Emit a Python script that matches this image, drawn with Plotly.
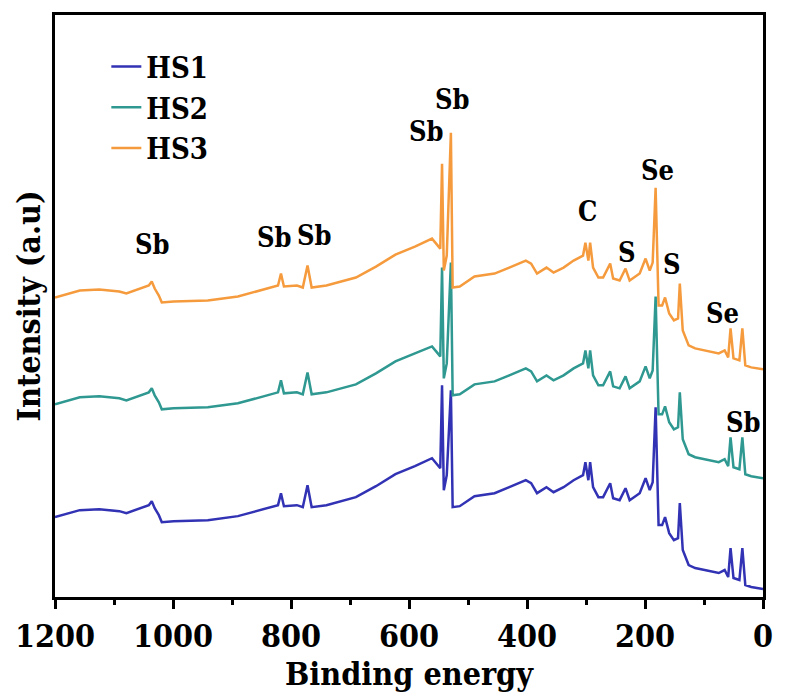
import plotly.graph_objects as go

# Binding energy (eV) sample points
energy = [1200,1158,1125,1091,1079,1058,1041,1036,1031,1024,
          1019,999,941,890,840,822,817,812,790,780,
          772,765,740,690,656,623,590,561,554,547,
          544,541,536,529,526,514,489,455,430,402,
          393,383,367,355,338,321,305,301,296,293,
          288,279,271,259,254,243,233,226,209,199,
          192,187,182,177,171,166,159,151,144,141,
          136,126,115,99,75,65,59,55,50,40,
          35,30,20,0]

# Intensities (a.u., stacked spectra)
hs1 = [80,87,88,86,84,88,92,96,89,82,
       75,76,77,81,89,92,104,91,92,90,
       112,90,92,100,111,123,131,139,134,129,
       212,107,122,207,90,91,101,104,110,117,
       114,104,110,105,110,117,122,135,117,135,
       110,100,100,114,99,97,109,97,104,119,
       107,115,190,72,72,80,64,57,59,94,
       47,32,29,27,24,27,20,49,19,17,
       49,12,10,8]

hs2 = [193,200,201,199,197,201,205,209,202,195,
       188,189,190,194,202,205,217,204,205,203,
       225,203,205,213,224,236,244,251,246,241,
       330,219,234,335,202,203,213,216,222,229,
       226,216,222,217,222,229,234,247,229,247,
       222,212,212,226,211,209,221,209,216,231,
       219,227,301,183,183,191,175,168,170,205,
       158,143,140,138,135,138,131,160,130,128,
       160,123,121,119]

hs3 = [300,307,308,306,304,308,312,316,309,302,
       295,296,297,301,309,312,324,311,312,310,
       332,310,312,320,331,343,351,359,354,349,
       434,327,342,465,310,311,321,324,330,337,
       334,324,330,325,330,337,342,355,337,355,
       330,320,320,334,319,317,329,317,324,339,
       327,335,410,292,292,300,284,277,279,314,
       267,252,249,247,244,247,240,269,239,237,
       269,232,230,228]

series_names = ["HS1", "HS2", "HS3"]
series_colors = ["#3232B4", "#2E9891", "#F59B3D"]

# Peak labels
peak_labels = ["Sb", "Sb", "Sb", "Sb", "Sb", "C", "S", "Se", "S", "Se", "Sb"]
peak_x = [1034, 828, 760, 571, 527, 298, 231, 179, 154, 69, 33]
peak_y = [353, 360, 362, 466, 498, 386, 345, 427, 333, 284, 175]

x_ticks = [1200, 1000, 800, 600, 400, 200, 0]

FONT = "DejaVu Serif Condensed"

fig = go.Figure()
for name, col, vals in zip(series_names, series_colors, [hs1, hs2, hs3]):
    fig.add_trace(go.Scatter(x=energy, y=vals, mode="lines", name="<b>%s</b>" % name,
                             line=dict(color=col, width=2.5)))

for t, xx, yy in zip(peak_labels, peak_x, peak_y):
    fig.add_annotation(x=xx, y=yy, text="<b>%s</b>" % t, showarrow=False,
                       xanchor="center", yanchor="middle",
                       font=dict(family=FONT, size=27, color="black"))

fig.update_layout(
    width=785, height=695,
    margin=dict(l=55, r=13, t=14, b=98),
    plot_bgcolor="white", paper_bgcolor="white",
    font=dict(family=FONT, color="black"),
    showlegend=True,
    legend=dict(x=0.0725, y=0.955, xanchor="left", yanchor="top",
                bgcolor="rgba(0,0,0,0)",
                font=dict(family=FONT, size=29, color="black"),
                tracegroupgap=0),
)

fig.update_xaxes(
    range=[1200, 0], tickvals=x_ticks, ticktext=["<b>%d</b>" % v for v in x_ticks],
    showline=True, linecolor="black", linewidth=3, mirror=True,
    ticks="outside", ticklen=9, tickwidth=3, tickcolor="black",
    minor=dict(dtick=100, ticks="outside", ticklen=5, tickwidth=3, tickcolor="black"),
    showgrid=False, zeroline=False,
    tickfont=dict(family=FONT, size=32, color="black"),
    title=dict(text="<b>Binding energy</b>", standoff=4,
               font=dict(family=FONT, size=32, color="black")),
)
fig.update_yaxes(
    range=[0, 583], showticklabels=False, ticks="",
    showline=True, linecolor="black", linewidth=3, mirror=True,
    showgrid=False, zeroline=False,
    title=dict(text="<b>Intensity (a.u)</b>", standoff=2,
               font=dict(family=FONT, size=32, color="black")),
)

fig.write_html("out.html")
